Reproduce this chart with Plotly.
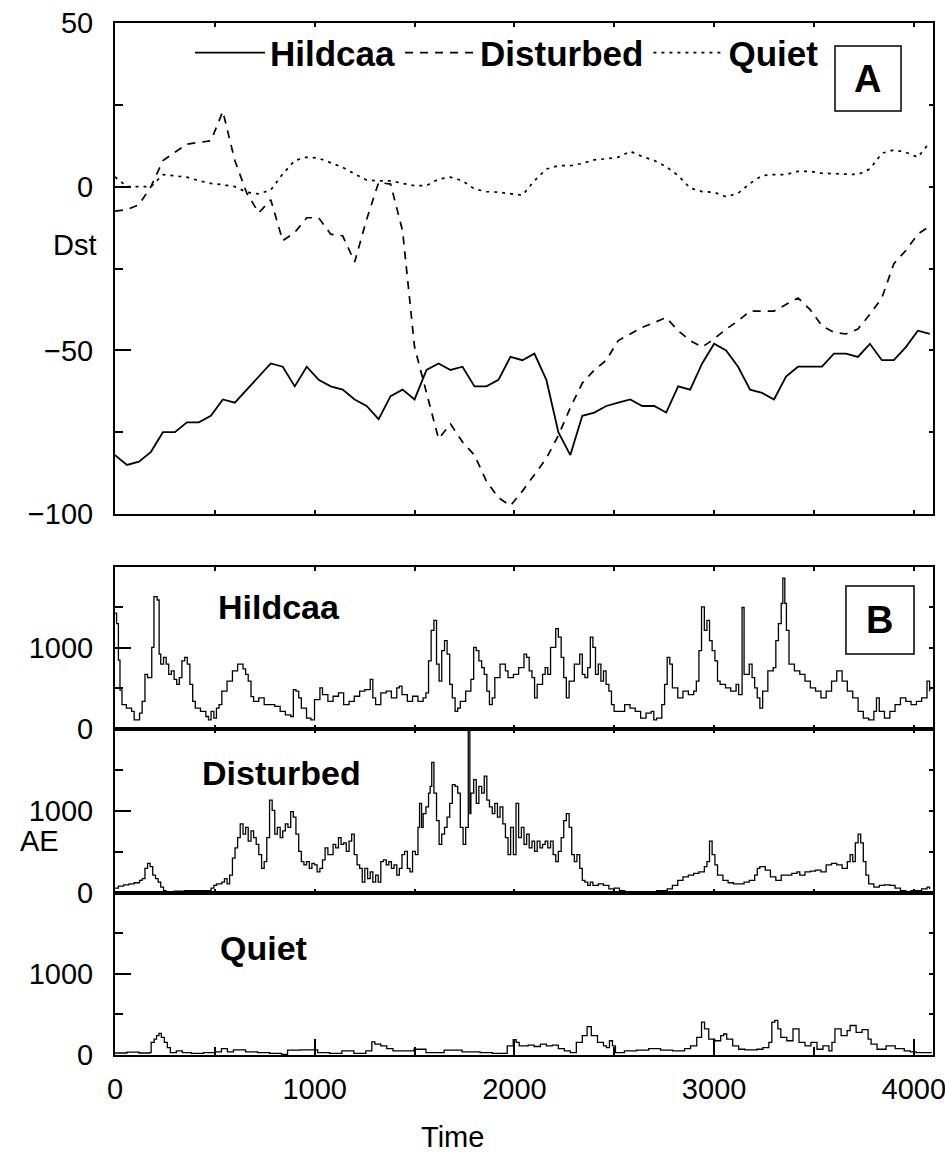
import plotly.graph_objects as go

# ---------------- Panel A : Dst (hourly, step 60) ----------------
dst_time = list(range(0, 4081, 60))
dst_hildcaa = [-82, -85, -84, -81, -75, -75, -72, -72, -70, -65,
               -66, -62, -58, -54, -55, -61, -55, -59, -61, -62,
               -65, -67, -71, -64, -62, -65, -56, -54, -56, -55,
               -61, -61, -59, -52, -53, -51, -59, -75, -82, -70,
               -69, -67, -66, -65, -67, -67, -69, -61, -62, -54,
               -48, -50, -55, -62, -63, -65, -58, -55, -55, -55,
               -51, -51, -52, -48, -53, -53, -49, -44, -45]
dst_disturbed = [-7.5, -7, -5.5, 0, 8, 10.5, 13, 13.5, 14, 23,
                 8, -2, -8, -4, -16.5, -14, -9.5, -9.5, -14.5, -15,
                 -23, -10, 1.3, 0.8, -13.5, -49, -63, -77, -72.5, -78,
                 -82, -90, -95, -97.5, -93, -88, -83, -76, -67.5, -60,
                 -56, -53, -47, -45, -43, -41.5, -40, -44, -47, -49,
                 -46.5, -43.5, -41, -38, -38, -38, -36, -34, -37.5, -42.5,
                 -44.5, -45, -43.5, -39, -34, -23.5, -19.5, -14.5, -12]
dst_quiet = [3, 0, 0, 0, 3.7, 3.4, 2.9, 1.8, 1, 0.6,
             0, -1.7, -2.2, -1, 3.9, 8, 9, 8.7, 7.4, 5.9,
             3.9, 2, 1.8, 1.8, 1, 0.3, 0.3, 2.3, 2.9, 1.8,
             -0.7, -1.5, -1.7, -2.1, -2.6, 1.8, 5.4, 6.4, 6.4, 7.1,
             8.2, 8.5, 9, 10.8, 9.2, 8, 6.1, 3.4, -0.4, -1.5,
             -1.7, -3.1, -2, 1, 3.4, 3.7, 3.7, 4.7, 4.7, 4.1,
             3.9, 3.7, 3.7, 5.4, 10.2, 11.2, 10.5, 9, 13.5]

# ---------------- Panel B : AE ----------------
ae_hild_t = [0, 8, 17, 25, 35, 57, 83, 96, 123, 136, 150, 163, 184, 195, 211, 221, 229, 243, 256, 269,
             282, 296, 309, 322, 335, 349, 362, 375, 389, 402, 428, 455, 468, 481, 495, 508, 521, 535, 561, 588,
             614, 641, 654, 667, 681, 694, 720, 747, 774, 800, 827, 853, 880, 893, 906, 920, 933, 959, 981, 999,
             1026, 1039, 1066, 1092, 1119, 1145, 1172, 1198, 1225, 1251, 1278, 1291, 1305, 1331, 1358, 1384, 1411, 1424, 1437, 1464,
             1490, 1517, 1543, 1557, 1570, 1583, 1597, 1610, 1623, 1636, 1650, 1663, 1676, 1689, 1703, 1716, 1729, 1756, 1782, 1796,
             1809, 1822, 1836, 1849, 1862, 1875, 1889, 1902, 1928, 1955, 1968, 1995, 2021, 2048, 2061, 2074, 2088, 2101, 2114, 2141,
             2154, 2167, 2181, 2207, 2220, 2234, 2247, 2260, 2274, 2300, 2327, 2340, 2353, 2367, 2380, 2393, 2406, 2420, 2433, 2446,
             2459, 2473, 2486, 2499, 2526, 2552, 2579, 2605, 2632, 2659, 2685, 2698, 2712, 2738, 2752, 2765, 2778, 2791, 2818, 2844,
             2871, 2898, 2911, 2924, 2937, 2951, 2964, 2977, 2990, 3004, 3017, 3030, 3057, 3083, 3110, 3123, 3140, 3150, 3163, 3176,
             3190, 3203, 3216, 3229, 3243, 3269, 3296, 3309, 3322, 3336, 3344, 3354, 3362, 3375, 3402, 3429, 3455, 3482, 3508, 3535,
             3561, 3588, 3614, 3641, 3667, 3694, 3721, 3747, 3774, 3800, 3813, 3827, 3853, 3880, 3906, 3933, 3960, 3986, 4013, 4039,
             4066, 4079]
ae_hild = [1430, 1300, 850, 480, 300, 258, 217, 112, 196, 342, 675, 633, 1008, 1633, 1592, 925, 800, 883, 800, 675,
           717, 612, 550, 633, 842, 883, 800, 550, 342, 258, 217, 154, 112, 217, 133, 258, 300, 467, 592, 717,
           800, 742, 675, 592, 400, 342, 383, 300, 300, 279, 217, 175, 154, 487, 467, 383, 258, 133, 112, 362,
           508, 425, 342, 404, 446, 300, 342, 404, 467, 487, 612, 383, 300, 446, 467, 383, 508, 529, 425, 342,
           404, 342, 383, 446, 842, 1217, 1342, 800, 592, 967, 1092, 925, 550, 383, 217, 258, 342, 467, 612, 1008,
           967, 842, 758, 675, 467, 300, 383, 633, 800, 717, 633, 675, 758, 925, 883, 717, 633, 383, 550, 675,
           758, 675, 1008, 1238, 1133, 883, 633, 383, 592, 800, 925, 675, 633, 758, 1133, 1008, 675, 800, 592, 717,
           550, 467, 300, 217, 217, 300, 258, 217, 133, 196, 217, 112, 133, 300, 550, 883, 800, 508, 383, 467,
           425, 467, 592, 967, 1508, 1217, 1342, 1092, 967, 842, 592, 550, 508, 467, 550, 425, 1500, 675, 675, 800,
           633, 508, 383, 258, 467, 717, 758, 1092, 1300, 1550, 1863, 1550, 1217, 800, 717, 675, 592, 508, 467, 383,
           467, 592, 717, 592, 467, 383, 217, 133, 112, 217, 383, 217, 133, 217, 300, 383, 342, 300, 342, 383,
           592, 467]

ae_dist_t = [0, 17, 43, 70, 96, 123, 136, 150, 163, 176, 189, 203, 216, 229, 243, 256, 296, 349, 402, 455,
             481, 495, 508, 535, 548, 561, 574, 588, 601, 614, 627, 641, 654, 667, 681, 694, 707, 720, 734, 747,
             760, 774, 787, 800, 813, 827, 840, 853, 866, 880, 893, 906, 920, 933, 946, 959, 973, 986, 999, 1012,
             1026, 1039, 1052, 1066, 1092, 1105, 1119, 1132, 1145, 1158, 1172, 1185, 1198, 1212, 1225, 1238, 1251, 1265, 1278, 1291,
             1305, 1318, 1331, 1344, 1358, 1371, 1384, 1397, 1411, 1424, 1437, 1450, 1464, 1477, 1490, 1504, 1517, 1525, 1535, 1543,
             1557, 1570, 1578, 1586, 1597, 1610, 1623, 1636, 1650, 1663, 1676, 1689, 1703, 1716, 1729, 1743, 1756, 1769, 1777, 1782,
             1796, 1809, 1822, 1836, 1849, 1862, 1875, 1889, 1902, 1915, 1928, 1942, 1955, 1968, 1981, 1995, 2008, 2021, 2035, 2048,
             2061, 2074, 2088, 2101, 2114, 2128, 2141, 2154, 2167, 2181, 2194, 2207, 2220, 2234, 2247, 2260, 2274, 2287, 2300, 2313,
             2327, 2340, 2353, 2367, 2380, 2393, 2420, 2446, 2473, 2499, 2526, 2552, 2605, 2659, 2712, 2765, 2791, 2818, 2844, 2871,
             2898, 2924, 2951, 2964, 2977, 2990, 3004, 3017, 3044, 3070, 3097, 3123, 3150, 3176, 3203, 3216, 3229, 3256, 3282, 3309,
             3336, 3362, 3389, 3415, 3429, 3455, 3482, 3508, 3535, 3561, 3588, 3614, 3641, 3667, 3681, 3694, 3707, 3721, 3734, 3747,
             3760, 3774, 3800, 3827, 3853, 3880, 3906, 3933, 3960, 3986, 4013, 4039, 4066, 4079]
ae_dist = [58, 83, 100, 112, 125, 154, 175, 300, 362, 321, 217, 175, 133, 71, 29, 8, 21, 29, 29, 29,
           58, 92, 112, 133, 175, 112, 217, 425, 550, 675, 842, 717, 800, 633, 758, 675, 592, 467, 300, 383,
           675, 1133, 1008, 717, 800, 675, 758, 842, 800, 992, 925, 717, 508, 383, 342, 383, 300, 362, 342, 258,
           300, 404, 550, 467, 592, 550, 675, 592, 612, 508, 633, 717, 467, 342, 300, 133, 300, 175, 258, 133,
           217, 133, 383, 404, 342, 383, 300, 342, 217, 300, 467, 508, 300, 258, 508, 467, 800, 1092, 800, 967,
           1050, 1217, 1300, 1592, 1217, 883, 592, 717, 800, 925, 1092, 1321, 1300, 1217, 800, 592, 800, 2000, 967, 1217,
           1383, 1092, 1300, 1217, 1425, 1133, 1050, 967, 1092, 925, 1050, 842, 675, 467, 800, 467, 1092, 675, 800, 592,
           717, 550, 633, 508, 633, 550, 592, 633, 550, 633, 467, 383, 508, 675, 883, 967, 800, 467, 383, 467,
           300, 154, 133, 92, 133, 92, 112, 92, 50, 58, 29, 17, 8, 17, 29, 50, 92, 154, 196, 217,
           238, 258, 321, 383, 633, 467, 342, 217, 154, 125, 112, 112, 133, 154, 217, 300, 321, 279, 196, 154,
           217, 217, 238, 258, 217, 258, 267, 279, 258, 342, 362, 342, 300, 383, 467, 383, 612, 717, 612, 383,
           217, 112, 71, 92, 100, 92, 58, 29, 17, 29, 29, 50, 71, 50]

ae_quiet_t = [0, 60, 120, 172, 181, 196, 208, 220, 232, 247, 262, 277, 307, 337, 383, 443, 503, 533, 563, 593,
              654, 714, 774, 834, 864, 925, 985, 1015, 1075, 1136, 1196, 1256, 1286, 1301, 1331, 1361, 1392, 1497, 1557, 1648,
              1738, 1828, 1889, 1964, 1994, 2009, 2024, 2069, 2099, 2130, 2160, 2190, 2220, 2250, 2280, 2310, 2340, 2364, 2385, 2416,
              2446, 2461, 2476, 2491, 2506, 2551, 2611, 2672, 2732, 2792, 2852, 2882, 2913, 2937, 2952, 2973, 3003, 3033, 3048, 3063,
              3093, 3123, 3154, 3214, 3244, 3274, 3289, 3304, 3319, 3334, 3364, 3395, 3425, 3455, 3485, 3515, 3545, 3575, 3590, 3605,
              3636, 3666, 3681, 3711, 3741, 3771, 3786, 3816, 3861, 3907, 3952, 3982, 4012, 4057, 4090]
ae_quiet = [25, 35, 25, 29, 155, 197, 238, 268, 218, 155, 92, 29, 50, 29, 21, 29, 38, 79, 38, 63,
            38, 29, 21, 8, 59, 63, 63, 29, 21, 50, 21, 50, 163, 134, 113, 79, 50, 71, 29, 59,
            38, 29, 21, 113, 188, 155, 113, 121, 105, 134, 113, 121, 79, 50, 29, 155, 238, 351, 238, 155,
            113, 92, 176, 113, 29, 50, 59, 79, 59, 50, 79, 113, 218, 406, 322, 197, 176, 238, 259, 197,
            113, 71, 63, 71, 92, 155, 406, 427, 322, 218, 176, 322, 155, 113, 155, 71, 113, 50, 155, 322,
            238, 301, 364, 280, 314, 197, 134, 71, 113, 79, 50, 38, 29, 29, 29]

x_range = [0, 4096]
x_ticks_major = [0, 1000, 2000, 3000, 4000]
x_ticks_all = [0, 500, 1000, 1500, 2000, 2500, 3000, 3500, 4000]
x_ticks_minor = [500, 1500, 2500, 3500]
dst_range = [-100, 50]
dst_ticks = [-100, -50, 0, 50]
dst_ticktext = ["\u2212100", "\u221250", "0", "50"]
dst_minor = [-75, -25, 25]
dst_all = [-100, -75, -50, -25, 0, 25, 50]
ae_range = [0, 2000]
ae_ticks = [0, 1000]
ae_minor = [500, 1500]
ae_all = [0, 500, 1000, 1500, 2000]

FONT = "Liberation Sans, Arial, Helvetica, sans-serif"
BLACK = "#000000"

fig = go.Figure()

# Panel A traces
fig.add_trace(go.Scatter(x=dst_time, y=dst_hildcaa, mode="lines", name="Hildcaa",
                         line=dict(color=BLACK, width=1.8), xaxis="x", yaxis="y"))
fig.add_trace(go.Scatter(x=dst_time, y=dst_disturbed, mode="lines", name="Disturbed",
                         line=dict(color=BLACK, width=1.7, dash="8px,7px"), xaxis="x", yaxis="y"))
fig.add_trace(go.Scatter(x=dst_time, y=dst_quiet, mode="lines", name="Quiet",
                         line=dict(color=BLACK, width=1.7, dash="3px,5px"), xaxis="x", yaxis="y"))

# Panel B traces
fig.add_trace(go.Scatter(x=ae_hild_t, y=ae_hild, mode="lines", line_shape="hv", showlegend=False,
                         line=dict(color=BLACK, width=1.3), xaxis="x2", yaxis="y2"))
fig.add_trace(go.Scatter(x=ae_dist_t, y=ae_dist, mode="lines", line_shape="hv", showlegend=False,
                         line=dict(color=BLACK, width=1.3), xaxis="x3", yaxis="y3"))
fig.add_trace(go.Scatter(x=ae_quiet_t, y=ae_quiet, mode="lines", line_shape="hv", showlegend=False,
                         line=dict(color=BLACK, width=1.3), xaxis="x4", yaxis="y4"))

# empty traces so the right-side tick axes exist
for ya, xa in [("y5", "x"), ("y6", "x2"), ("y7", "x3"), ("y8", "x4")]:
    fig.add_trace(go.Scatter(x=[None], y=[None], mode="lines", showlegend=False,
                             hoverinfo="skip", xaxis=xa, yaxis=ya))

dom_A = [0.5242, 1.0]
dom_H = [0.3159, 0.4729]
dom_D = [0.1570, 0.3159]
dom_Q = [0.0, 0.1570]

common_line = dict(showline=True, linecolor=BLACK, linewidth=2, showgrid=False, zeroline=False,
                   automargin=False)
TICK_SIZE = 29
tickfont = dict(family=FONT, size=TICK_SIZE, color=BLACK)


def small_x(anchor):
    return dict(domain=[0, 1], anchor=anchor, range=x_range, tickmode="array", tickvals=x_ticks_all,
                ticks="inside", ticklen=4, tickwidth=2, tickcolor=BLACK, showticklabels=False,
                mirror="ticks", **common_line)


def ae_y(dom, anchor):
    return dict(domain=dom, anchor=anchor, range=ae_range, tickmode="array", tickvals=ae_ticks,
                ticks="inside", ticklen=16, tickwidth=2, tickcolor=BLACK,
                minor=dict(tickmode="array", tickvals=ae_minor, ticks="inside", ticklen=8,
                           tickwidth=2, tickcolor=BLACK, showgrid=False),
                tickfont=tickfont, ticklabelstandoff=14, mirror=True, **common_line)


def right_y(over, anchor, rng, vals):
    return dict(overlaying=over, anchor=anchor, side="right", range=rng, tickmode="array",
                tickvals=vals, ticks="inside", ticklen=4, tickwidth=2, tickcolor=BLACK,
                showticklabels=False, showline=False, showgrid=False, zeroline=False,
                automargin=False)


xq = dict(domain=[0, 1], anchor="y4", range=x_range, tickmode="array", tickvals=x_ticks_major,
          ticks="inside", ticklen=16, tickwidth=2, tickcolor=BLACK,
          minor=dict(tickmode="array", tickvals=x_ticks_minor, ticks="inside", ticklen=8,
                     tickwidth=2, tickcolor=BLACK, showgrid=False),
          tickfont=tickfont, ticklabelstandoff=7, ticklabeloverflow="allow",
          mirror=True, **common_line)

fig.update_layout(
    width=945, height=1152,
    margin=dict(l=115, r=12, t=23, b=97, autoexpand=False),
    paper_bgcolor="white", plot_bgcolor="white",
    font=dict(family=FONT, color=BLACK),
    xaxis=small_x("y"),
    yaxis=dict(domain=dom_A, anchor="x", range=dst_range, tickmode="array", tickvals=dst_ticks,
               ticktext=dst_ticktext,
               ticks="inside", ticklen=16, tickwidth=2, tickcolor=BLACK,
               minor=dict(tickmode="array", tickvals=dst_minor, ticks="inside", ticklen=8,
                          tickwidth=2, tickcolor=BLACK, showgrid=False),
               tickfont=tickfont, ticklabelstandoff=14, mirror=True, **common_line),
    xaxis2=small_x("y2"),
    yaxis2=ae_y(dom_H, "x2"),
    xaxis3=small_x("y3"),
    yaxis3=ae_y(dom_D, "x3"),
    xaxis4=xq,
    yaxis4=ae_y(dom_Q, "x4"),
    yaxis5=right_y("y", "x", dst_range, dst_all),
    yaxis6=right_y("y2", "x2", ae_range, ae_all),
    yaxis7=right_y("y3", "x3", ae_range, ae_all),
    yaxis8=right_y("y4", "x4", ae_range, ae_all),
    legend=dict(orientation="h", x=0.0917, xanchor="left", y=0.971, yanchor="middle",
                bgcolor="rgba(0,0,0,0)", itemwidth=70,
                font=dict(family=FONT, size=35, color=BLACK, weight="bold")),
    showlegend=True,
)

label_font = dict(family=FONT, size=34, color=BLACK, weight="bold")
fig.add_annotation(x=0.1235, y=0.434, xref="paper", yref="paper", text="Hildcaa", showarrow=False,
                   xanchor="left", yanchor="middle", font=label_font)
fig.add_annotation(x=0.1039, y=0.2733, xref="paper", yref="paper", text="Disturbed", showarrow=False,
                   xanchor="left", yanchor="middle", font=label_font)
fig.add_annotation(x=0.1259, y=0.1037, xref="paper", yref="paper", text="Quiet", showarrow=False,
                   xanchor="left", yanchor="middle", font=label_font)

# boxed panel letters
fig.add_shape(type="rect", xref="paper", yref="paper", x0=0.8802, x1=0.9609, y0=0.9147, y1=0.9777,
              line=dict(color=BLACK, width=1.5))
fig.add_annotation(x=0.9205, y=0.9462, xref="paper", yref="paper", text="A", showarrow=False,
                   xanchor="center", yanchor="middle",
                   font=dict(family=FONT, size=38, color=BLACK, weight="bold"))
fig.add_shape(type="rect", xref="paper", yref="paper", x0=0.8936, x1=0.9768, y0=0.3886, y1=0.4545,
              line=dict(color=BLACK, width=1.5))
fig.add_annotation(x=0.9352, y=0.4215, xref="paper", yref="paper", text="B", showarrow=False,
                   xanchor="center", yanchor="middle",
                   font=dict(family=FONT, size=38, color=BLACK, weight="bold"))

# axis titles
fig.add_annotation(x=-0.019, y=0.785, xref="paper", yref="paper", text="Dst", showarrow=False,
                   xanchor="right", yanchor="middle", font=dict(family=FONT, size=TICK_SIZE, color=BLACK))
fig.add_annotation(x=-0.066, y=0.207, xref="paper", yref="paper", text="AE", showarrow=False,
                   xanchor="right", yanchor="middle", font=dict(family=FONT, size=TICK_SIZE, color=BLACK))
fig.add_annotation(x=0.412, y=-0.0795, xref="paper", yref="paper", text="Time", showarrow=False,
                   xanchor="center", yanchor="middle", font=dict(family=FONT, size=29, color=BLACK))

# the page has a default 8px body margin; remove it so the figure sits at the page origin
fig.write_html("out.html", config={"displayModeBar": False},
               post_script="document.body.style.margin='0px';")
